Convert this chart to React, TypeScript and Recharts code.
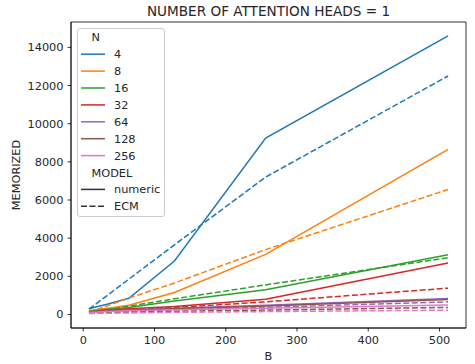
import React from 'react';
import { LineChart, Line, XAxis, YAxis, ReferenceArea } from 'recharts';

const B = [8, 16, 32, 64, 128, 256, 512];
const N_LABELS = ['4', '8', '16', '32', '64', '128', '256'];
const COLORS = ['#1f77b4', '#ff7f0e', '#2ca02c', '#d62728', '#9467bd', '#8c564b', '#e377c2'];

const numeric4 = [300, 380, 520, 850, 2800, 9250, 14600];
const ecm4 = [280, 500, 950, 1850, 3650, 7200, 12500];
const numeric8 = [200, 240, 310, 480, 1150, 3150, 8650];
const ecm8 = [110, 220, 430, 860, 1650, 3400, 6550];
const numeric16 = [150, 190, 260, 370, 700, 1300, 3130];
const ecm16 = [70, 130, 230, 430, 820, 1550, 2970];
const numeric32 = [130, 160, 220, 300, 420, 800, 2700];
const ecm32 = [80, 110, 160, 240, 360, 660, 1380];
const numeric64 = [120, 140, 180, 240, 330, 480, 840];
const ecm64 = [70, 90, 120, 170, 250, 370, 660];
const numeric128 = [110, 130, 170, 220, 300, 440, 790];
const ecm128 = [60, 70, 90, 120, 170, 230, 370];
const numeric256 = [100, 120, 150, 190, 250, 330, 490];
const ecm256 = [50, 55, 65, 80, 110, 150, 225];

const NUMERIC = [numeric4, numeric8, numeric16, numeric32, numeric64, numeric128, numeric256];
const ECM = [ecm4, ecm8, ecm16, ecm32, ecm64, ecm128, ecm256];

const X_TICKS = [0, 100, 200, 300, 400, 500];
const Y_TICKS = [0, 2000, 4000, 6000, 8000, 10000, 12000, 14000];
const X_DOMAIN = [-17.2, 537.2];
const Y_DOMAIN = [-710, 15330];

const MODEL_LABELS = ['numeric', 'ECM'];
const TITLE = 'NUMBER OF ATTENTION HEADS = 1';

const data = B.map((b, i) => {
  const row: Record<string, number> = { B: b };
  N_LABELS.forEach((n, k) => {
    row[`num_${n}`] = NUMERIC[k][i];
    row[`ecm_${n}`] = ECM[k][i];
  });
  return row;
});

const FONT = 'DejaVu Sans, sans-serif';
const DASH = '6 2.5';

const Legend2 = () => {
  const rowH = 16.9;
  const first = 9.3;
  const rows: { kind: 'title' | 'item'; label: string; color?: string; dash?: string }[] = [];
  rows.push({ kind: 'title', label: 'N' });
  N_LABELS.forEach((n, k) => rows.push({ kind: 'item', label: n, color: COLORS[k] }));
  rows.push({ kind: 'title', label: 'MODEL' });
  MODEL_LABELS.forEach((m, k) => rows.push({ kind: 'item', label: m, color: '#333333', dash: k === 1 ? DASH : undefined }));
  return (
    <div
      style={{
        position: 'absolute',
        left: 77,
        top: 27.5,
        width: 88,
        height: 189,
        border: '1px solid #cccccc',
        borderRadius: 3,
        background: 'rgba(255,255,255,0.8)',
        boxSizing: 'border-box',
      }}
    >
      <svg width={88} height={189} style={{ position: 'absolute', left: -1, top: -1 }}>
        {rows.map((r, i) => {
          const cy = first + i * rowH;
          if (r.kind === 'title') {
            return (
              <text key={i} x={14.5} y={cy} dy="0.36em" fontSize={11.3} fontFamily={FONT} fill="#262626">
                {r.label}
              </text>
            );
          }
          return (
            <g key={i}>
              <line x1={4} x2={28} y1={cy} y2={cy} stroke={r.color} strokeWidth={1.5} strokeDasharray={r.dash} />
              <text x={37} y={cy} dy="0.36em" fontSize={11.3} fontFamily={FONT} fill="#262626">
                {r.label}
              </text>
            </g>
          );
        })}
      </svg>
    </div>
  );
};

export default function App() {
  return (
    <div style={{ position: 'absolute', left: 0, top: 0, width: 475, height: 364, background: '#fff', fontFamily: FONT }}>
      <div
        style={{
          position: 'absolute',
          left: 71,
          width: 395,
          top: 2,
          textAlign: 'center',
          fontSize: 13.6,
          fontFamily: FONT,
          color: '#262626',
          lineHeight: '18px',
          whiteSpace: 'nowrap',
        }}
      >
        {TITLE}
      </div>
      <LineChart width={475} height={364} data={data} margin={{ top: 22, right: 9, bottom: 0, left: 0 }}>
        <XAxis
          dataKey="B"
          type="number"
          domain={X_DOMAIN}
          ticks={X_TICKS}
          allowDataOverflow
          height={36}
          tickSize={3.5}
          tickMargin={4}
          axisLine={{ stroke: '#000', strokeWidth: 0.8 }}
          tickLine={{ stroke: '#000', strokeWidth: 0.8 }}
          tick={{ fill: '#262626', fontSize: 11.3, fontFamily: FONT }}
          label={(props: any) => {
            const vb = props.viewBox;
            return (
              <text x={vb.x + vb.width / 2} y={vb.y + 28} dy="0.36em" textAnchor="middle" fontSize={11.3} fontFamily={FONT} fill="#262626">
                B
              </text>
            );
          }}
        />
        <YAxis
          type="number"
          domain={Y_DOMAIN}
          ticks={Y_TICKS}
          allowDataOverflow
          width={71}
          tickSize={3.5}
          tickMargin={4}
          axisLine={{ stroke: '#000', strokeWidth: 0.8 }}
          tickLine={{ stroke: '#000', strokeWidth: 0.8 }}
          tick={{ fill: '#262626', fontSize: 11.3, fontFamily: FONT }}
          label={(props: any) => {
            const vb = props.viewBox;
            const cx = vb.x + 16;
            const cy = vb.y + vb.height / 2;
            return (
              <text x={cx} y={cy} dy="0.36em" textAnchor="middle" fontSize={11.3} fontFamily={FONT} fill="#262626" transform={`rotate(-90, ${cx}, ${cy})`}>
                MEMORIZED
              </text>
            );
          }}
        />
        <ReferenceArea x1={X_DOMAIN[0]} x2={X_DOMAIN[1]} y1={Y_DOMAIN[0]} y2={Y_DOMAIN[1]} fill="none" fillOpacity={0} stroke="#000" strokeWidth={0.8} ifOverflow="visible" />
        {N_LABELS.map((n, k) => [
          <Line key={`num_${n}`} dataKey={`num_${n}`} stroke={COLORS[k]} strokeWidth={1.5} dot={false} isAnimationActive={false} type="linear" />,
          <Line key={`ecm_${n}`} dataKey={`ecm_${n}`} stroke={COLORS[k]} strokeWidth={1.5} strokeDasharray={DASH} dot={false} isAnimationActive={false} type="linear" />,
        ])}
      </LineChart>
      <Legend2 />
    </div>
  );
}
